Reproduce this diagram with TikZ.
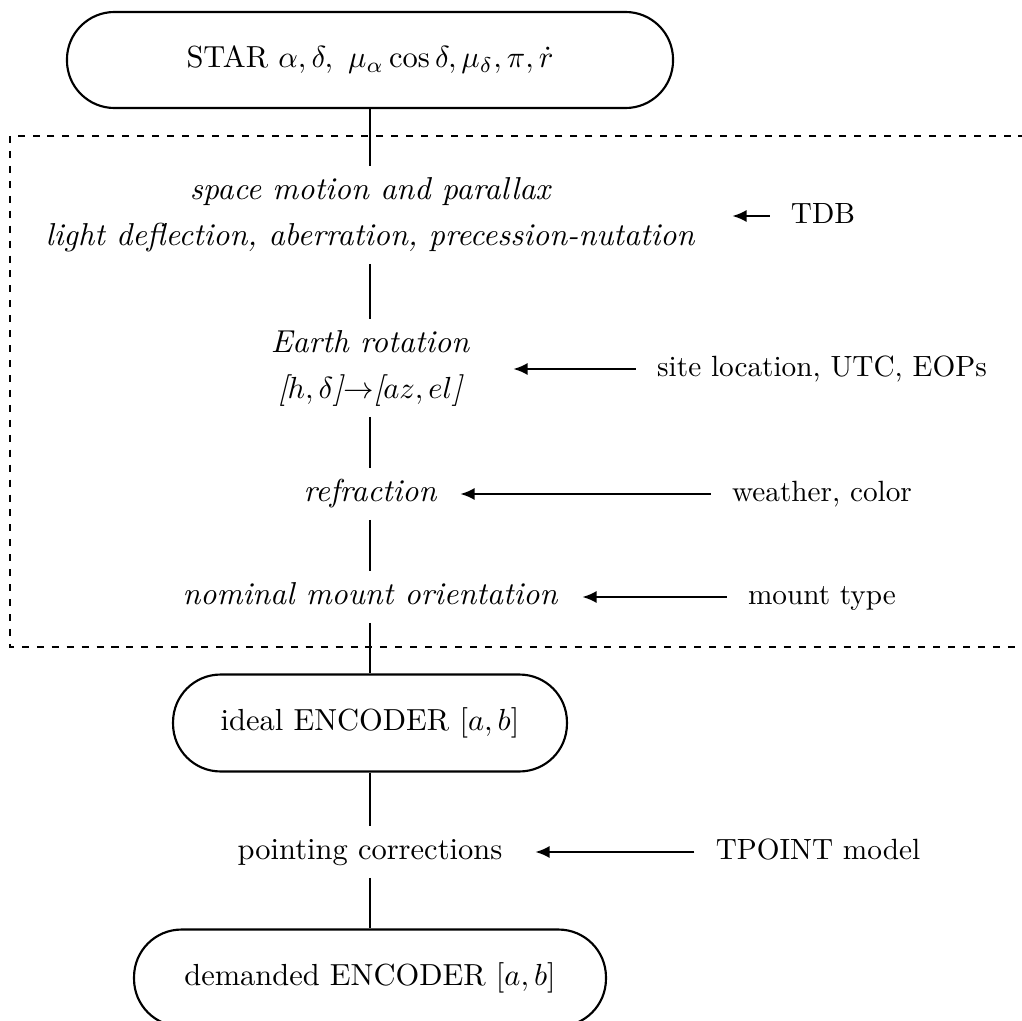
\documentclass[tikz,border=0pt]{standalone}
\usetikzlibrary{arrows.meta}
\begin{document}
\begin{tikzpicture}[x=0.328pt,y=-0.328pt,
  box/.style={draw,line width=0.7pt,rounded corners=15.6pt,inner sep=0pt,align=center},
  lbl/.style={inner sep=0pt,text height=7pt,text depth=2pt,outer ysep=4pt},
  itl/.style={lbl,font=\fontsize{10.4}{12.5}\selectfont\itshape},
  side/.style={inner sep=0pt,text height=7pt,text depth=2pt,outer xsep=7pt,
    font=\fontsize{9.6}{11.5}\selectfont},
  conn/.style={line width=0.5pt},
  arr/.style={line width=0.9pt,-{Latex[length=4.8pt,width=4pt]}},
  grp/.style={line width=0.7pt,dash pattern=on 2.3pt off 2.6pt}]
\useasboundingbox (0,0) rectangle (1022,1021);
\clip (0,0) rectangle (1022,1021);

% dashed group
\draw[grp] (10,136) rectangle (1045,647);

% main column
\node[box,minimum width=198.8pt,minimum height=31.5pt] (star) at (370,60)
  {\raisebox{-1pt}{STAR $\alpha,\delta,\ \mu_\alpha\cos\delta,\mu_\delta,\pi,\dot{r}$}};
\node[itl] (sm) at (370,192) {space motion and parallax};
\node[itl] (ld) at (370,238) {light deflection, aberration, precession-nutation};
\node[itl] (er) at (370,345) {Earth rotation};
\node[itl] (hd) at (370,391) {[$h,\delta$]$\rightarrow$[$az,el$]};
\node[itl] (rf) at (370,494) {refraction};
\node[itl] (nm) at (370,597) {nominal mount orientation};
\node[box,minimum width=129.2pt,minimum height=31.8pt] (ideal) at (370,723)
  {ideal ENCODER $[a,b]$};
\node[lbl] (pc) at (370,852) {pointing corrections};
\node[box,minimum width=154.8pt,minimum height=31.8pt] (dem) at (370,978)
  {demanded ENCODER $[a,b]$};

\draw[conn] (star) -- (sm);
\draw[conn] (ld) -- (er);
\draw[conn] (hd) -- (rf);
\draw[conn] (rf) -- (nm);
\draw[conn] (nm) -- (ideal);
\draw[conn] (ideal) -- (pc);
\draw[conn] (pc) -- (dem);

% side inputs
\node[side] (tdb) at (823,216) {TDB};
\node[side] (site) at (822,369) {site location, UTC, EOPs};
\node[side] (wc) at (822,494) {weather, color};
\node[side] (mt) at (822,597) {mount type};
\node[side] (tp) at (818,852) {TPOINT model};

\coordinate (tdbtip) at (732,216);
\coordinate (sitetip) at (513,369);
\coordinate (wctip) at (460,494);
\coordinate (mttip) at (582,597);
\coordinate (tptip) at (535,852);

\draw[arr] (tdb) -- (tdbtip);
\draw[arr] (site) -- (sitetip);
\draw[arr] (wc) -- (wctip);
\draw[arr] (mt) -- (mttip);
\draw[arr] (tp) -- (tptip);
\end{tikzpicture}
\end{document}
